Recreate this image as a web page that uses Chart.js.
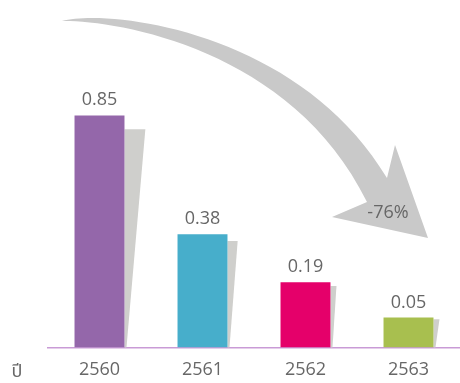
<!DOCTYPE html>
<html>
<head>
<meta charset="utf-8">
<script src="https://cdn.jsdelivr.net/npm/chart.js@4"></script>
<style>
  html, body { margin: 0; padding: 0; background: #ffffff; }
  #wrap { width: 460px; height: 383px; position: relative; }
</style>
</head>
<body>
<div id="wrap"><canvas id="c" width="460" height="383"></canvas></div>
<script>
const categories = ['2560', '2561', '2562', '2563'];
const values = [0.85, 0.38, 0.19, 0.05];
const valueLabels = ['0.85', '0.38', '0.19', '0.05'];
const barColors = ['#9467aa', '#47aecb', '#e5006a', '#a8bf4f'];
const axisTitle = 'ปี';
const changeLabel = '-76%';

const Y_MIN = -0.068;
const Y_MAX = 1.2;
const FONT = "'Open Sans', 'Noto Sans', 'Noto Sans Thai', sans-serif";
const TEXT_COLOR = '#676767';

const decor = {
  id: 'decor',
  beforeDatasetsDraw(chart) {
    const ctx = chart.ctx;
    // curved arrow
    ctx.save();
    ctx.fillStyle = '#c9c9c9';
    ctx.beginPath();
    ctx.moveTo(62, 21);
    ctx.bezierCurveTo(110, 8, 300, 32, 387, 178);
    ctx.lineTo(395, 145);
    ctx.lineTo(428, 238);
    ctx.lineTo(332, 217);
    ctx.lineTo(367, 202);
    ctx.bezierCurveTo(290, 45, 110, 20, 62, 21);
    ctx.closePath();
    ctx.fill();
    ctx.restore();
    // bar shadows
    const meta = chart.getDatasetMeta(0);
    ctx.save();
    ctx.fillStyle = '#cfcfcc';
    meta.data.forEach(bar => {
      const p = bar.getProps(['x', 'y', 'base', 'width'], true);
      const right = p.x + p.width / 2;
      const h = p.base - p.y;
      const off = 0.06 * h;
      const w = Math.max(6, 0.09 * h);
      ctx.beginPath();
      ctx.moveTo(right, p.y + off);
      ctx.lineTo(right + w, p.y + off);
      ctx.lineTo(right + 2, p.base);
      ctx.lineTo(right, p.base);
      ctx.closePath();
      ctx.fill();
    });
    ctx.restore();
  },
  afterDatasetsDraw(chart) {
    const ctx = chart.ctx;
    const meta = chart.getDatasetMeta(0);
    ctx.save();
    ctx.fillStyle = TEXT_COLOR;
    ctx.font = '18px ' + FONT;
    ctx.textAlign = 'center';
    ctx.textBaseline = 'alphabetic';
    meta.data.forEach((bar, i) => {
      const p = bar.getProps(['x', 'y'], true);
      ctx.fillText(valueLabels[i], p.x, p.y - 10);
    });
    // arrow label
    ctx.fillText(changeLabel, 388, 218);
    // axis title
    ctx.textBaseline = 'middle';
    ctx.fillText(axisTitle, 17, 372);
    ctx.restore();
  }
};

new Chart(document.getElementById('c'), {
  type: 'bar',
  data: {
    labels: categories,
    datasets: [{
      data: values,
      backgroundColor: barColors,
      borderWidth: 0,
      base: Y_MIN,
      barPercentage: 0.485,
      categoryPercentage: 1.0
    }]
  },
  options: {
    responsive: false,
    animation: false,
    layout: { padding: { left: 48, right: 0, top: 27, bottom: -10 } },
    plugins: { legend: { display: false }, tooltip: { enabled: false } },
    scales: {
      y: { display: false, min: Y_MIN, max: Y_MAX },
      x: {
        grid: { display: false, drawTicks: false },
        border: { display: true, color: '#c99bd6', width: 1.5 },
        ticks: { color: TEXT_COLOR, font: { family: FONT, size: 18 }, padding: 12 }
      }
    }
  },
  plugins: [decor]
});
</script>
</body>
</html>
